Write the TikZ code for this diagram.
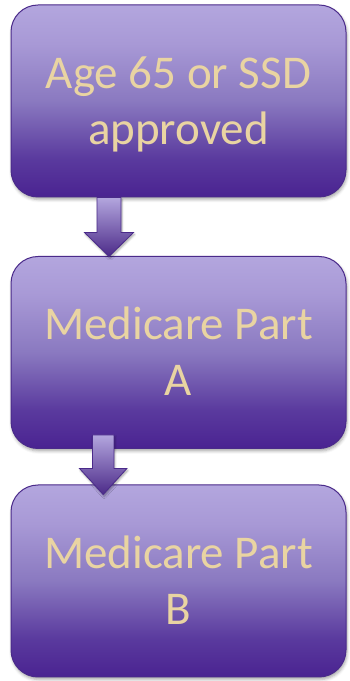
\documentclass[tikz,border=0pt]{standalone}
\usepackage{fontspec}
\setmainfont{Carlito}
\usetikzlibrary{calc,shadows.blur}
\definecolor{bbot}{HTML}{4A2391}
\definecolor{bq1}{HTML}{5A3A9E}
\definecolor{bmid}{HTML}{8A79C0}
\definecolor{bq3}{HTML}{A899D6}
\definecolor{btop}{HTML}{B3A6DE}
\definecolor{bline}{HTML}{4A2A8A}
\definecolor{txtcol}{HTML}{E9D4A2}
\pgfdeclareverticalshading{boxshade}{100bp}{color(0bp)=(bbot); color(25bp)=(bbot); color(35bp)=(bq1); color(50bp)=(bmid); color(65bp)=(bq3); color(75bp)=(btop); color(100bp)=(btop)}
\newcommand{\boxlines}[2]{\rule{0pt}{31pt}\smash{#1}\\\smash{#2}}
\tikzset{
  flowbox/.style={rounded corners=27pt, minimum width=335pt, minimum height=192pt,
    inner sep=0pt, draw=bline, line width=1pt, shading=boxshade,
    blur shadow={shadow xshift=1pt, shadow yshift=-2.5pt, shadow blur radius=3pt, shadow opacity=35},
    text=txtcol, align=center, font=\fontsize{47}{56}\selectfont},
  blockarrow/.style={draw=bline, line width=0.8pt, top color=btop, bottom color=bbot!90!black!95,
    blur shadow={shadow xshift=1pt, shadow yshift=-2pt, shadow blur radius=2pt, shadow opacity=35}}
}
\begin{document}
\begin{tikzpicture}[x=1pt,y=1pt]
\useasboundingbox (0,0) rectangle (349,681);
\node[flowbox] (b1) at (178.5,580) {\boxlines{Age 65 or SSD}{approved}};
\node[flowbox] (b2) at (178.5,328.5) {\boxlines{Medicare Part}{A}};
\node[flowbox] (b3) at (178.5,100) {\boxlines{Medicare Part}{B}};
\coordinate (a1s) at ($(b1.south)+(-69.5,0)$);
\coordinate (a1t) at ($(b2.north)+(-69.5,-0.5)$);
\coordinate (a2s) at ($(b2.south)+(-75.3,14)$);
\coordinate (a2t) at ($(b3.north)+(-75.3,-10)$);
\path[blockarrow] let \p1=(a1s), \p2=(a1t) in
  (\x1-12pt,\y1) -- (\x1+12pt,\y1) -- (\x1+12pt,\y2+24pt) -- (\x1+24.5pt,\y2+24pt)
  -- (\x1,\y2) -- (\x1-24.5pt,\y2+24pt) -- (\x1-12pt,\y2+24pt) -- cycle;
\path[blockarrow] let \p1=(a2s), \p2=(a2t) in
  (\x1-10.7pt,\y1) -- (\x1+10.7pt,\y1) -- (\x1+10.7pt,\y2+26pt) -- (\x1+23.7pt,\y2+26pt)
  -- (\x1,\y2) -- (\x1-23.7pt,\y2+26pt) -- (\x1-10.7pt,\y2+26pt) -- cycle;
\end{tikzpicture}
\end{document}
